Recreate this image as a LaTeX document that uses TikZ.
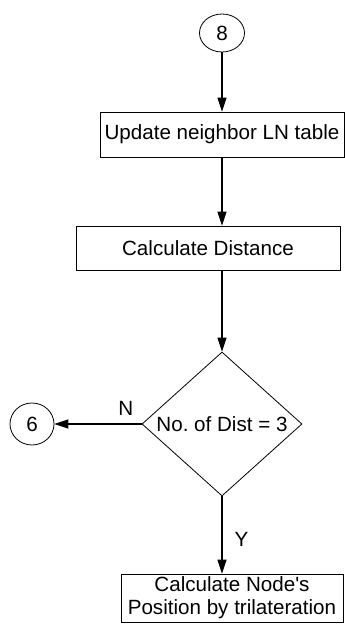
\documentclass[tikz,border=0pt]{standalone}
\usepackage{fontspec}
\setmainfont{Liberation Sans}
\usepackage{tikz}
\usetikzlibrary{shapes.geometric, arrows.meta}
\frenchspacing

\begin{document}
\begin{tikzpicture}[
    node distance=100pt,
    every node/.style={font=\fontsize{20.6}{23}\selectfont},
    box/.style={rectangle, draw=black, line width=0.8pt, inner sep=0pt,
                align=center},
    conn/.style={ellipse, draw=black, line width=0.8pt, inner sep=0pt},
    decision/.style={diamond, draw=black, line width=0.8pt, inner sep=0pt,
                aspect=1.1, minimum width=160pt, minimum height=144pt},
    lbl/.style={inner sep=2pt},
    arrow/.style={-{Triangle[length=14pt, width=9pt]}, line width=1.1pt}
]
\useasboundingbox (0pt,0pt) rectangle (345pt,624pt);

\node (c8) [conn, minimum width=45pt, minimum height=38pt] at (222pt,591pt) {8};
\node (upd) [box, minimum width=244pt, minimum height=45pt,
             below of=c8, yshift=-1.5pt] {Update neighbor LN table};
\node (dist) [box, minimum width=264pt, minimum height=44pt,
              below of=upd, yshift=-13.5pt, xshift=-14pt] {Calculate Distance};
\node (dec) [decision, below of=dist, yshift=-76pt, xshift=14pt] {No. of Dist = 3};
\node (c6) [conn, minimum width=44pt, minimum height=42pt,
            left of=dec, xshift=-90pt] {6};
\node (pos) [box, minimum width=222pt, minimum height=48pt,
             below of=dec, yshift=-74pt, xshift=10pt]
             {Calculate Node\textquotesingle s\\Position by trilateration};

\draw [arrow] (c8) -- (upd);
\draw [arrow] (upd.south) -- (upd.south |- dist.north);
\draw [arrow] (dec.north |- dist.south) -- (dec);
\draw [arrow] (dec) -- node [lbl, pos=0.18, above=6pt] {N} (c6);
\draw [arrow] (dec.south) -- node [lbl, pos=0.56, right=10pt] {Y} (dec.south |- pos.north);

\end{tikzpicture}
\end{document}
